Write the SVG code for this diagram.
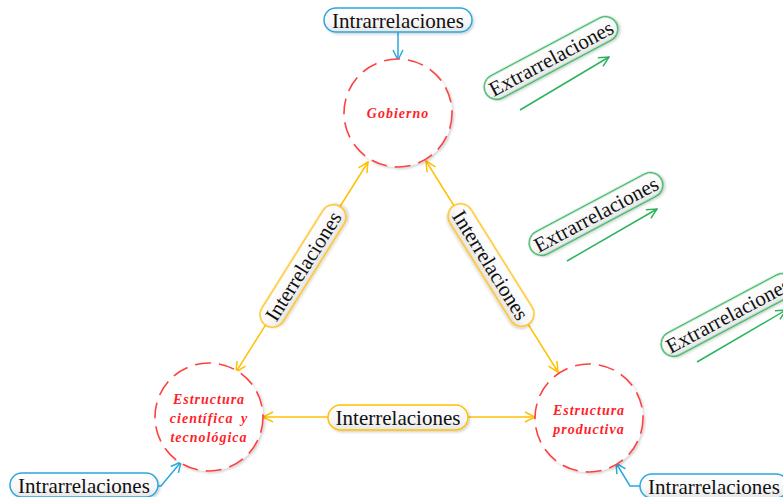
<svg xmlns="http://www.w3.org/2000/svg" width="783" height="497" viewBox="0 0 783 497">
<defs>
<linearGradient id="pill" x1="0" y1="0" x2="0" y2="1">
<stop offset="0" stop-color="#ffffff"/>
<stop offset="0.6" stop-color="#f7f7f7"/>
<stop offset="1" stop-color="#e6e6e6"/>
</linearGradient>
<filter id="sh" x="-20%" y="-20%" width="140%" height="150%">
<feDropShadow dx="1.5" dy="1.5" stdDeviation="1.2" flood-color="#000" flood-opacity="0.18"/>
</filter>
<marker id="ay" viewBox="0 0 12 12" refX="11" refY="6" markerWidth="12" markerHeight="12" markerUnits="userSpaceOnUse" orient="auto-start-reverse">
<path d="M1,1 L11,6 L1,11" fill="none" stroke="#ffc000" stroke-width="1.5"/>
</marker>
<marker id="ab" viewBox="0 0 12 12" refX="11" refY="6" markerWidth="12" markerHeight="12" markerUnits="userSpaceOnUse" orient="auto">
<path d="M1,1 L11,6 L1,11" fill="none" stroke="#29a8e0" stroke-width="1.5"/>
</marker>
<marker id="ag" viewBox="0 0 12 12" refX="11" refY="6" markerWidth="12" markerHeight="12" markerUnits="userSpaceOnUse" orient="auto">
<path d="M1,1 L11,6 L1,11" fill="none" stroke="#2db35d" stroke-width="1.5"/>
</marker>
</defs>
<style>
.node circle{fill:#fff;stroke:#ff4040;stroke-width:1.6;stroke-dasharray:16 8;filter:url(#sh)}
.nt{font-family:"Liberation Serif","Times New Roman",serif;font-style:italic;font-weight:bold;font-size:14px;fill:#ff1f2a;text-anchor:middle;letter-spacing:1px}
.lab{font-family:"Liberation Serif","Times New Roman",serif;font-size:21px;fill:#111;text-anchor:middle;dominant-baseline:central}
.py{fill:url(#pill);stroke:#ffc000;stroke-width:1.5;filter:url(#sh)}
.pb{fill:url(#pill);stroke:#29a8e0;stroke-width:1.5;filter:url(#sh)}
.pg{fill:url(#pill);stroke:#2db35d;stroke-width:1.5;filter:url(#sh)}
.cy{fill:none;stroke:#ffc000;stroke-width:1.5}
.cb{fill:none;stroke:#29a8e0;stroke-width:1.5}
.cg{fill:none;stroke:#2db35d;stroke-width:1.5}
</style>
<rect width="783" height="497" fill="#fff"/>
<g id="connectors">
<line class="cy" x1="368" y1="162" x2="236" y2="372" marker-start="url(#ay)" marker-end="url(#ay)"/>
<line class="cy" x1="426" y1="161" x2="558" y2="372" marker-start="url(#ay)" marker-end="url(#ay)"/>
<line class="cy" x1="263" y1="417" x2="535" y2="417" marker-start="url(#ay)" marker-end="url(#ay)"/>
<line class="cb" x1="398" y1="32" x2="398" y2="60" marker-end="url(#ab)"/>
<polyline class="cb" points="158,486 161,486 181,462" marker-end="url(#ab)"/>
<polyline class="cb" points="640,486 630,486 616,463" marker-end="url(#ab)"/>
<line class="cg" x1="520" y1="110" x2="609" y2="57" marker-end="url(#ag)"/>
<line class="cg" x1="567" y1="261" x2="657" y2="209" marker-end="url(#ag)"/>
<line class="cg" x1="697" y1="362" x2="786" y2="310" marker-end="url(#ag)"/>
</g>
<g id="gobierno" class="node">
<circle cx="398" cy="113" r="54"/>
<text class="nt" x="398" y="118">Gobierno</text>
</g>
<g id="cientifica" class="node">
<circle cx="209" cy="417" r="54"/>
<text class="nt" x="209" y="404">Estructura</text>
<text class="nt" x="209" y="423" word-spacing="3">científica y</text>
<text class="nt" x="209" y="442">tecnológica</text>
</g>
<g id="productiva" class="node">
<circle cx="589" cy="418" r="54"/>
<text class="nt" x="589" y="415">Estructura</text>
<text class="nt" x="589" y="434">productiva</text>
</g>
<g id="lbl-intra-top">
<rect class="pb" x="324" y="8" width="148" height="24" rx="12"/>
<text class="lab" x="398" y="20.5">Intrarrelaciones</text>
</g>
<g id="lbl-intra-left">
<rect class="pb" x="10" y="473" width="148" height="24" rx="12"/>
<text class="lab" x="84" y="485.5">Intrarrelaciones</text>
</g>
<g id="lbl-intra-right">
<rect class="pb" x="640" y="474" width="148" height="24" rx="12"/>
<text class="lab" x="714" y="486.5">Intrarrelaciones</text>
</g>
<g id="lbl-inter-left" transform="translate(303,266) rotate(-58)">
<rect class="py" x="-70" y="-12.5" width="140" height="25" rx="12.5"/>
<text class="lab" x="0" y="0.5">Interrelaciones</text>
</g>
<g id="lbl-inter-right" transform="translate(491,265) rotate(58)">
<rect class="py" x="-70" y="-12.5" width="140" height="25" rx="12.5"/>
<text class="lab" x="0" y="0.5">Interrelaciones</text>
</g>
<g id="lbl-inter-bottom">
<rect class="py" x="328" y="405" width="140" height="25" rx="12.5"/>
<text class="lab" x="398" y="418">Interrelaciones</text>
</g>
<g id="lbl-extra-1" transform="translate(551,58) rotate(-28)">
<rect class="pg" x="-74" y="-12.5" width="148" height="25" rx="12.5"/>
<text class="lab" x="0" y="0.5">Extrarrelaciones</text>
</g>
<g id="lbl-extra-2" transform="translate(596,214) rotate(-28)">
<rect class="pg" x="-74" y="-12.5" width="148" height="25" rx="12.5"/>
<text class="lab" x="0" y="0.5">Extrarrelaciones</text>
</g>
<g id="lbl-extra-3" transform="translate(728,315) rotate(-28)">
<rect class="pg" x="-74" y="-12.5" width="148" height="25" rx="12.5"/>
<text class="lab" x="0" y="0.5">Extrarrelaciones</text>
</g>
</svg>
